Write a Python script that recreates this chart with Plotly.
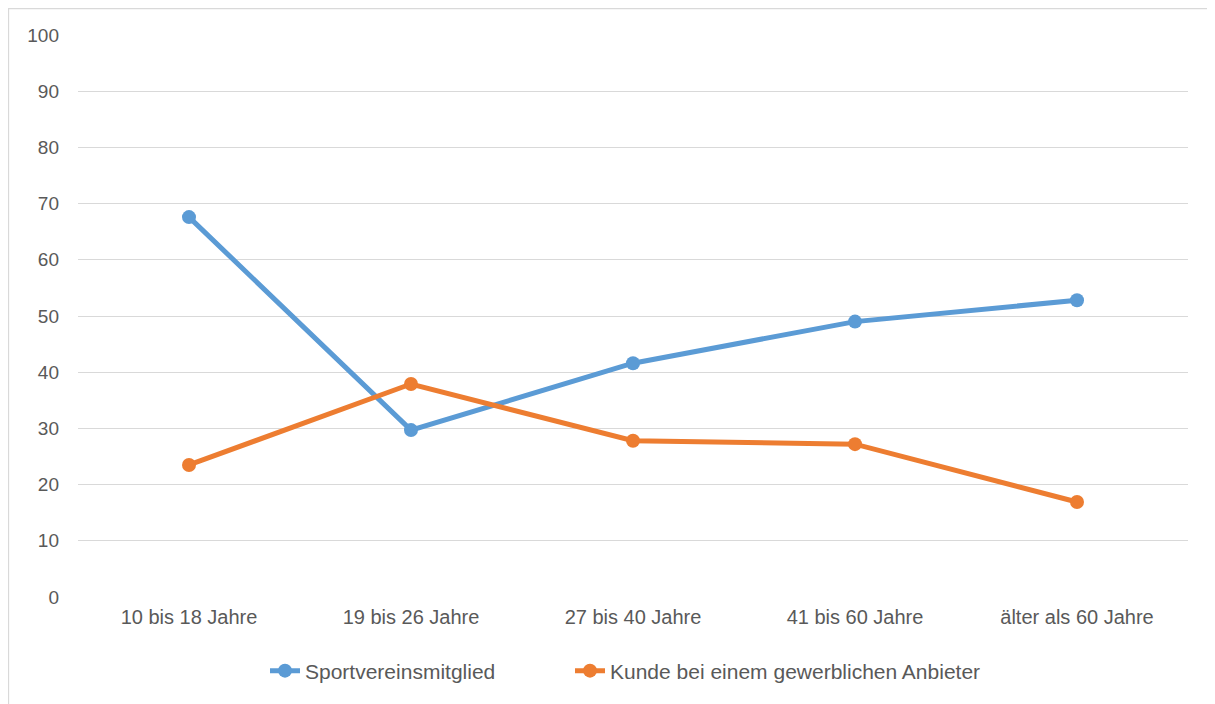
import plotly.graph_objects as go

categories = ["10 bis 18 Jahre", "19 bis 26 Jahre", "27 bis 40 Jahre", "41 bis 60 Jahre", "älter als 60 Jahre"]
sportverein = [67.6, 29.7, 41.6, 49.0, 52.8]
gewerblich = [23.5, 37.9, 27.8, 27.2, 16.9]
series_names = ["Sportvereinsmitglied", "Kunde bei einem gewerblichen Anbieter"]
y_ticks = [0, 10, 20, 30, 40, 50, 60, 70, 80, 90, 100]

# page is offset by the 8px body margin; work in page pixel coordinates
OFF = 8
W, H = 1215 - OFF, 704 - OFF
PL, PR, PT, PB = 78, 1188, 35, 597  # plot area in page pixels
L, T = PL - OFF, PT - OFF
R = (W + OFF) - PR
B = (H + OFF) - PB
pw, ph = PR - PL, PB - PT

def px_x(x):
    return (x - PL) / pw

def px_y(y):
    return (PB - y) / ph

fig = go.Figure()
for name, vals, col, leg in [(series_names[0], sportverein, "#5B9BD5", "legend"),
                             (series_names[1], gewerblich, "#ED7D31", "legend2")]:
    fig.add_trace(go.Scatter(
        x=categories, y=vals, name=name, mode="lines+markers",
        line=dict(color=col, width=5),
        marker=dict(color=col, size=14),
        legend=leg,
    ))

leg_common = dict(orientation="h", xanchor="left", y=px_y(671), yanchor="middle",
                  font=dict(size=21, color="#595959"), itemwidth=30,
                  bgcolor="rgba(0,0,0,0)")

fig.update_layout(
    width=W, height=H,
    margin=dict(l=L, r=R, t=T, b=B, autoexpand=False),
    paper_bgcolor="white", plot_bgcolor="white",
    font=dict(family="Liberation Sans, Arial, sans-serif", size=20, color="#595959"),
    showlegend=True,
    legend=dict(x=px_x(265), **leg_common),
    legend2=dict(x=px_x(570), **leg_common),
    xaxis=dict(type="category", range=[-0.5, 4.5], showgrid=False, zeroline=False,
               showline=False, ticks="", ticklabelstandoff=6,
               tickfont=dict(size=20, color="#595959")),
    yaxis=dict(range=[0, 100], tickvals=y_ticks, showgrid=True, gridcolor="#D9D9D9",
               gridwidth=1.3, zeroline=False, showline=False, ticks="",
               ticklabelstandoff=18, tickfont=dict(size=19, color="#595959")),
    shapes=[dict(type="rect", xref="paper", yref="paper",
                 x0=px_x(8.5), x1=px_x(1240), y0=px_y(740), y1=px_y(8.5),
                 line=dict(color="#D9D9D9", width=1.3), fillcolor="rgba(0,0,0,0)", layer="below")],
)

fig.write_html("out.html")
